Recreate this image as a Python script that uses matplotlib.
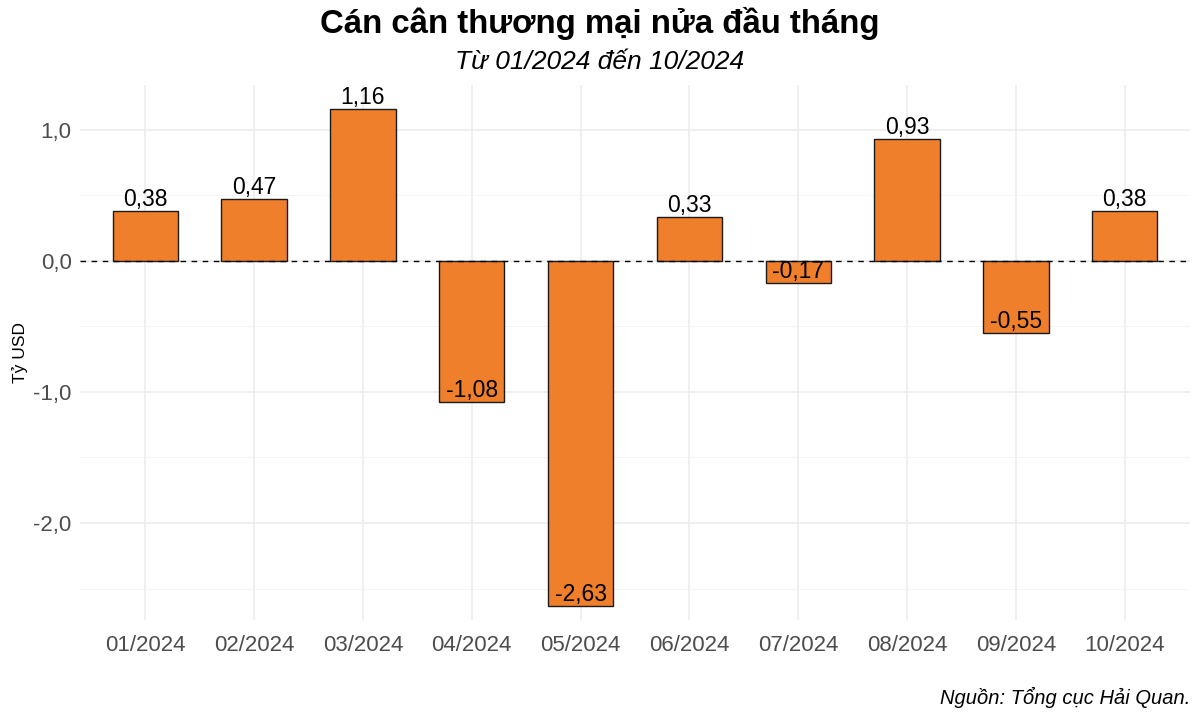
import matplotlib
matplotlib.use("Agg")
import matplotlib.pyplot as plt
from matplotlib.ticker import FixedLocator

plt.rcParams['font.family'] = ['Liberation Sans', 'DejaVu Sans']

months = ["01/2024", "02/2024", "03/2024", "04/2024", "05/2024",
          "06/2024", "07/2024", "08/2024", "09/2024", "10/2024"]
balance = [0.38, 0.47, 1.16, -1.08, -2.63, 0.33, -0.17, 0.93, -0.55, 0.38]
yticks = [-2.0, -1.0, 0.0, 1.0]
ytick_labels = ["-2,0", "-1,0", "0,0", "1,0"]

fig = plt.figure(figsize=(12, 7.2), dpi=100)
ax = fig.add_axes([80/1200, 1 - 620/720, 1110/1200, (620-85)/720])

x = list(range(1, len(months) + 1))
ax.bar(x, balance, width=0.6, color="#F07F2B", edgecolor="#1A1A1A", linewidth=1.0, zorder=3)
ax.axhline(0, color="black", linestyle=(0, (4, 4)), linewidth=1.0, zorder=4)

for xi, v in zip(x, balance):
    ax.text(xi, v, f"{v:.2f}".replace(".", ","), ha="center", va="bottom",
            fontsize=16.5, color="black", zorder=5)

ax.set_xlim(0.4, 10.6)
ax.set_ylim(-2.74, 1.34)
ax.set_xticks(x)
ax.set_xticklabels(months)
ax.set_yticks(yticks)
ax.set_yticklabels(ytick_labels)
ax.yaxis.set_minor_locator(FixedLocator([-2.5, -1.5, -0.5, 0.5]))

ax.grid(True, which="major", color="#EBEBEB", linewidth=1.1, zorder=0)
ax.grid(True, which="minor", axis="y", color="#F3F3F3", linewidth=0.6, zorder=0)
for s in ax.spines.values():
    s.set_visible(False)
ax.tick_params(axis="both", which="both", length=0, labelsize=16, labelcolor="#4D4D4D")
ax.tick_params(axis="x", pad=11)
ax.tick_params(axis="y", pad=6)
ax.set_ylabel("Tỷ USD", fontsize=12.5, color="black", labelpad=4)

fig.text(0.5, 1 - 23/720, "Cán cân thương mại nửa đầu tháng", ha="center", va="center",
         fontsize=23.8, fontweight="bold")
fig.text(0.5, 1 - 62/720, "Từ 01/2024 đến 10/2024", ha="center", va="center",
         fontsize=19, style="italic")
fig.text(1 - 10/1200, 1 - 697/720, "Nguồn: Tổng cục Hải Quan.", ha="right", va="center",
         fontsize=14.5, style="italic")

fig.savefig("out.png", dpi=100)
